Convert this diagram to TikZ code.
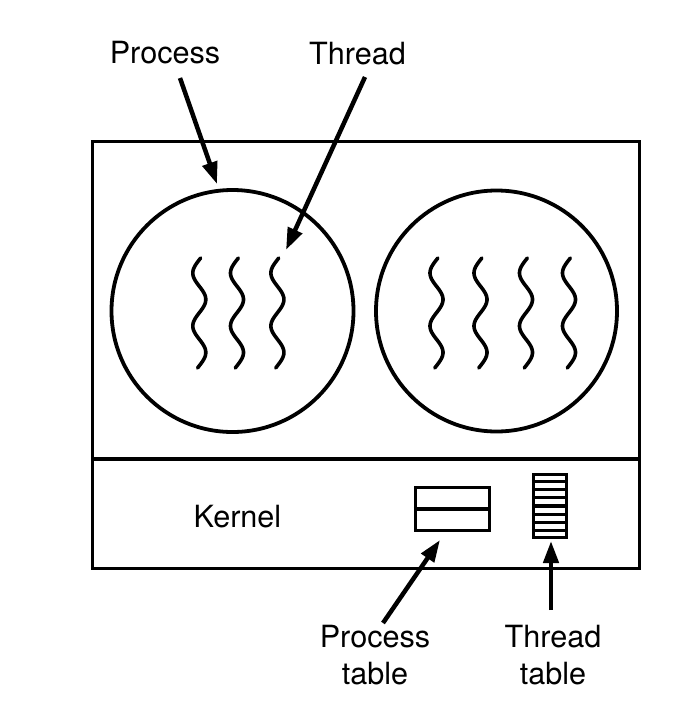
\documentclass[tikz,border=0pt]{standalone}
\usepackage{fontspec}
\setmainfont{TeX Gyre Heros}
\usetikzlibrary{arrows.meta,calc}
\begin{document}
\begin{tikzpicture}[x=1pt,y=-1pt,
  frame/.style={draw, line width=3.2pt},
  proc/.style={draw, circle, line width=3.8pt, inner sep=0pt},
  lbl/.style={font=\fontsize{30.6}{37}\selectfont, inner sep=0pt, anchor=base, align=center},
  arr/.style={line width=4.5pt, -{Triangle[length=22pt,width=15pt]}},
  wiggle/.style={line width=3.6pt, line cap=round}]
\useasboundingbox (0,0) rectangle (700,718);
% outer frame and kernel divider
\node[frame, minimum width=547pt, minimum height=427pt, inner sep=0pt] (sys) at (366.25,355.25) {};
\coordinate (divl) at (91,459);
\coordinate (divr) at (641,459);
\draw[frame] (divl) -- (divr);
% processes
\node[proc, minimum size=242pt] (p1) at (232.5,311) {};
\node[proc, minimum size=241pt] (p2) at (496.5,311) {};
% threads
\foreach \xc in {199.3,237,277.4,436.5,480.5,526,569}
  \draw[wiggle] plot[domain=0:110, samples=90] ({\xc-6.5*sin(6.7925*(\x-1.75))}, {258+\x});
% process table
\node[frame, minimum width=74pt, minimum height=43pt, inner sep=0pt] (ptab) at (452.5,509) {};
\draw[frame] (ptab.west) -- (ptab.east);
% thread table
\node[frame, minimum width=33pt, minimum height=63pt, inner sep=0pt] (ttab) at (550,506) {};
\foreach \k in {1,...,7}
  \draw[line width=3.3pt] ($(ttab.north west)!\k/8!(ttab.south west)$) -- ($(ttab.north east)!\k/8!(ttab.south east)$);
% labels
\node[lbl] (lproc) at (165,63) {Process};
\node[lbl] (lthr) at (357.5,64) {Thread};
\node[lbl] (lkern) at (237.5,527) {Kernel};
\node[lbl] (lpt) at (375,684) {Process\\table};
\node[lbl] (ltt) at (553,684) {Thread\\table};
% arrow endpoints
\coordinate (a1s) at (180,78);
\coordinate (a1e) at (217,184);
\coordinate (a2s) at (365,77);
\coordinate (a2e) at (286,250);
\coordinate (a3s) at (383,623);
\coordinate (a3e) at (440,540);
\coordinate (a4s) at (551,610);
\coordinate (a4e) at (551,541);
\draw[arr] (a1s) -- (a1e);
\draw[arr] (a2s) -- (a2e);
\draw[arr] (a3s) -- (a3e);
\draw[arr] (a4s) -- (a4e);
\end{tikzpicture}
\end{document}
